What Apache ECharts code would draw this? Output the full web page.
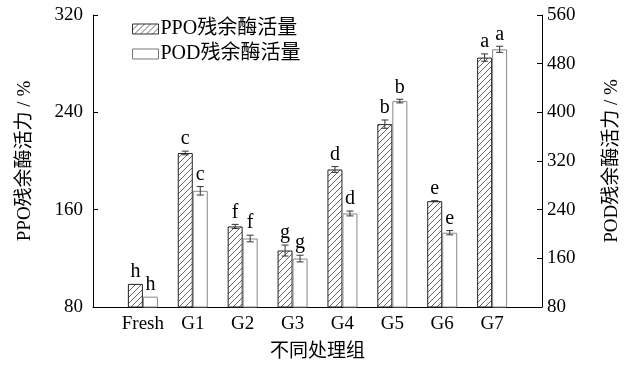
<!DOCTYPE html>
<html><head><meta charset="utf-8">
<script src="https://cdn.jsdelivr.net/npm/echarts@6/dist/echarts.min.js"></script>
<style>html,body{margin:0;padding:0;background:#fff}#c{width:630px;height:372px}</style>
</head><body><div id="c"></div>
<script>
var categories = ['Fresh','G1','G2','G3','G4','G5','G6','G7'];
var ppoValues = [99, 206.6, 146.2, 126.4, 193, 230.3, 167, 285];
var ppoErrors = [0, 1.5, 1.7, 4.5, 2.4, 3.4, 0.4, 3];
var ppoLetters = ['h','c','f','g','d','b','e','a'];
var podValues = [97, 271, 192.6, 159.6, 233.7, 418.5, 202.1, 503.6];
var podErrors = [0, 7, 5.5, 5.5, 4, 3, 3.5, 5];
var podLetters = ['h','c','f','g','d','b','e','a'];
var leftTicks = [80, 160, 240, 320];
var rightTicks = [80, 160, 240, 320, 400, 480, 560];

var FONT = "'Liberation Serif', 'Noto Sans CJK SC', serif";
var BAR_W = 15;

function hatch(){
  var c = document.createElement('canvas');
  c.width = 6; c.height = 6;
  var g = c.getContext('2d');
  g.fillStyle = '#fff'; g.fillRect(0,0,6,6);
  g.strokeStyle = '#555'; g.lineWidth = 0.9;
  g.beginPath();
  g.moveTo(0,6); g.lineTo(6,0);
  g.moveTo(-3,3); g.lineTo(3,-3);
  g.moveTo(3,9); g.lineTo(9,3);
  g.stroke();
  return c;
}
var hatchPattern = {image: hatch(), repeat: 'repeat'};

var xCats = [''].concat(categories).concat(['']);
function pad(arr){ return ['-'].concat(arr).concat(['-']); }

function errSeries(vals, errs, letters, axisIdx, dir){
  var data = vals.map(function(v,i){ return [i+1, v, errs[i], letters[i]]; });
  return {
    type: 'custom', yAxisIndex: axisIdx, z: 5, silent: true,
    data: data,
    renderItem: function(params, api){
      var x = api.value(0), v = api.value(1), e = api.value(2);
      var top = api.coord([x, v + e]);
      var bot = api.coord([x, v - e]);
      var cx = top[0] + dir * BAR_W/2;
      var children = [];
      if (e > 0.3) {
        var st = {stroke: '#333', lineWidth: 1};
        children.push({type:'line', shape:{x1:cx,y1:top[1],x2:cx,y2:bot[1]}, style:st});
        children.push({type:'line', shape:{x1:cx-3.5,y1:top[1],x2:cx+3.5,y2:top[1]}, style:st});
        children.push({type:'line', shape:{x1:cx-3.5,y1:bot[1],x2:cx+3.5,y2:bot[1]}, style:st});
      }
      children.push({type:'text', style:{text: data[params.dataIndex][3], x: cx, y: top[1]-2,
        textAlign:'center', textVerticalAlign:'bottom', font: '20px ' + FONT, fill:'#000'}});
      return {type:'group', children: children};
    }
  };
}

var chart = echarts.init(document.getElementById('c'), null, {renderer:'canvas'});
chart.setOption({
  animation: false,
  backgroundColor: '#fff',
  grid: {left: 93, right: 86, top: 15, bottom: 65},
  legend: {
    left: 132, top: 19, orient: 'vertical', itemWidth: 26, itemHeight: 10, itemGap: 5,
    padding: 0, icon: 'rect',
    textStyle: {fontFamily: FONT, fontSize: 20, color: '#000', padding: [0,0,0,-3]},
    data: [
      {name: 'PPO残余酶活量', itemStyle:{color: hatchPattern, borderColor:'#333', borderWidth:1}},
      {name: 'POD残余酶活量', itemStyle:{color:'#fff', borderColor:'#777', borderWidth:1}}
    ]
  },
  xAxis: {
    type: 'category', data: xCats, boundaryGap: false,
    axisLine: {lineStyle:{color:'#000', width:1}},
    axisTick: {show:false},
    axisLabel: {fontFamily: FONT, fontSize: 19, color:'#000', margin: 8, interval: 0},
    name: '不同处理组', nameLocation: 'middle', nameGap: 36,
    nameTextStyle: {fontFamily: FONT, fontSize: 19, color:'#000'}
  },
  yAxis: [
    {type:'value', min: leftTicks[0], max: leftTicks[leftTicks.length-1], interval: 80,
     position:'left',
     axisLine:{show:true, lineStyle:{color:'#000'}},
     axisTick:{show:true, inside:true, length:5, lineStyle:{color:'#000'}},
     axisLabel:{fontFamily: FONT, fontSize: 19, color:'#000', margin: 10},
     splitLine:{show:false},
     name:'PPO残余酶活力 / %', nameLocation:'middle', nameRotate: 90, nameGap: 58,
     nameTextStyle:{fontFamily: FONT, fontSize: 19, color:'#000'}},
    {type:'value', min: rightTicks[0], max: rightTicks[rightTicks.length-1], interval: 80,
     position:'right',
     axisLine:{show:true, lineStyle:{color:'#000'}},
     axisTick:{show:true, inside:true, length:5, lineStyle:{color:'#000'}},
     axisLabel:{fontFamily: FONT, fontSize: 19, color:'#000', margin: 5},
     splitLine:{show:false},
     name:'POD残余酶活力 / %', nameLocation:'middle', nameRotate: 90, nameGap: 61,
     nameTextStyle:{fontFamily: FONT, fontSize: 19, color:'#000'}}
  ],
  series: [
    {name:'PPO残余酶活量', type:'bar', yAxisIndex:0, barWidth: BAR_W, barGap: '0%',
     data: pad(ppoValues),
     itemStyle:{color: hatchPattern, borderColor:'#222', borderWidth:1}},
    {name:'POD残余酶活量', type:'bar', yAxisIndex:1, barWidth: BAR_W, barGap: '0%',
     data: pad(podValues),
     itemStyle:{color:'#fff', borderColor:'#888', borderWidth:1}},
    errSeries(ppoValues, ppoErrors, ppoLetters, 0, -1),
    errSeries(podValues, podErrors, podLetters, 1, 1)
  ]
});
</script></body></html>
